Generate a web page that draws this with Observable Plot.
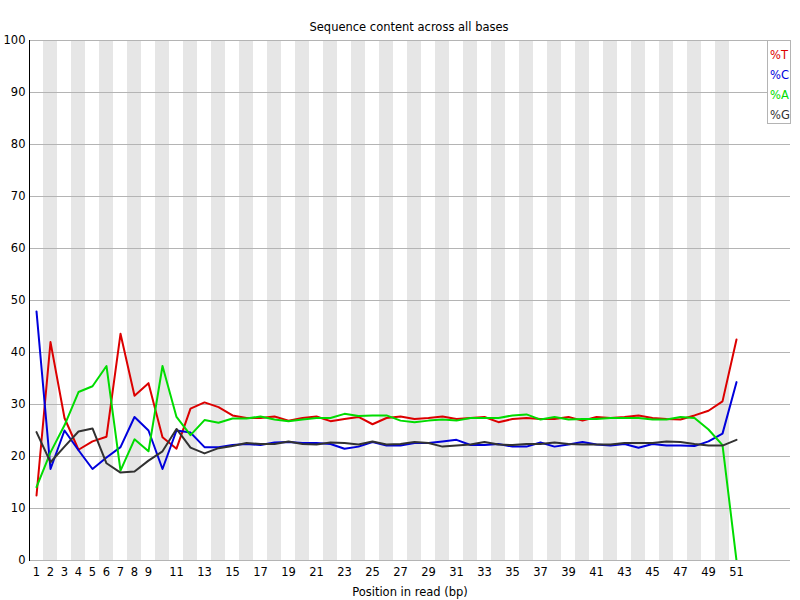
<!DOCTYPE html>
<html>
<head>
<meta charset="utf-8">
<script src="https://cdn.jsdelivr.net/npm/d3@7"></script>
<script src="https://cdn.jsdelivr.net/npm/@observablehq/plot@0.6"></script>
<style>
  body { margin: 0; background: white; }
  #wrap { position: relative; width: 800px; height: 600px; }
  #legend {
    position: absolute; left: 767px; top: 40px; width: 22px; height: 82px;
    background: white; border: 1px solid #b4b4b4;
    font-family: "DejaVu Sans", sans-serif; font-size: 11.5px;
  }
  #legend div { position: absolute; left: 2px; }
</style>
</head>
<body>
<div id="wrap"></div>
<script>
const positions = d3.range(1, 52);
const xTickLabels = [1,2,3,4,5,6,7,8,9,11,13,15,17,19,21,23,25,27,29,31,33,35,37,39,41,43,45,47,49,51];
const yTickLabels = [0,10,20,30,40,50,60,70,80,90,100];
const seriesNames = ["%T", "%C", "%A", "%G"];
const seriesColors = ["#dc0000", "#0000dc", "#00dc00", "#323232"];

const pctT = [12.5,42.0,27.4,21.3,22.9,23.8,43.6,31.7,34.1,23.7,
  21.5,29.2,30.4,29.5,27.9,27.4,27.4,27.7,26.9,27.4,
  27.7,26.8,27.2,27.6,26.2,27.4,27.7,27.2,27.4,27.7,
  27.2,27.4,27.6,26.6,27.2,27.4,27.2,27.2,27.6,26.9,
  27.6,27.4,27.6,27.9,27.4,27.2,27.1,27.9,28.8,30.6,42.5];
const pctC = [47.9,17.6,25.0,21.2,17.6,19.8,21.8,27.6,25.0,17.6,
  25.0,24.6,21.8,21.8,22.2,22.4,22.2,22.7,22.8,22.6,
  22.6,22.4,21.5,21.9,22.8,22.1,22.1,22.6,22.6,22.9,
  23.2,22.2,22.2,22.4,21.9,21.9,22.7,21.9,22.3,22.8,
  22.3,22.1,22.4,21.7,22.4,22.1,22.1,22.0,22.9,24.4,34.3];
const pctA = [14.1,20.8,26.0,32.4,33.5,37.4,17.3,23.3,21.0,37.4,
  27.6,24.1,27.0,26.5,27.3,27.3,27.7,27.1,26.8,27.1,
  27.4,27.4,28.2,27.8,27.9,27.9,26.9,26.6,26.9,27.1,
  26.9,27.4,27.4,27.4,27.9,28.1,27.1,27.6,27.1,27.2,
  27.2,27.4,27.4,27.4,27.1,27.1,27.6,27.4,25.2,22.2,0];
const pctG = [24.7,18.9,21.9,24.8,25.4,18.7,16.9,17.1,19.2,21.0,
  25.3,21.7,20.6,21.6,22.0,22.6,22.4,22.4,22.9,22.4,
  22.3,22.7,22.6,22.3,22.9,22.3,22.4,22.8,22.6,21.9,
  22.1,22.3,22.8,22.3,22.2,22.4,22.4,22.7,22.4,22.3,
  22.3,22.3,22.6,22.6,22.6,22.9,22.8,22.4,22.1,22.1,23.2];

const seriesValues = [pctT, pctC, pctA, pctG];
const rows = [];
seriesNames.forEach((name, i) => {
  positions.forEach((p, j) => rows.push({series: name, pos: p, value: seriesValues[i][j]}));
});
const stripes = positions.filter(p => p % 2 === 0);

const chart = Plot.plot({
  width: 800,
  height: 600,
  marginTop: 40,
  marginBottom: 40,
  marginLeft: 29,
  marginRight: 10,
  style: {fontFamily: "DejaVu Sans, sans-serif", fontSize: "11.5px", background: "white", color: "black"},
  x: {domain: [0.5, 54.857], axis: null},
  y: {domain: [0, 100], axis: null},
  color: {domain: seriesNames, range: seriesColors},
  marks: [
    Plot.rect(stripes, {x1: d => d - 0.5, x2: d => d + 0.5, y1: 0, y2: 100, fill: "#e6e6e6"}),
    Plot.gridY(yTickLabels, {stroke: "#b4b4b4", strokeOpacity: 1, strokeWidth: 1}),
    Plot.line(rows, {x: "pos", y: "value", z: "series", stroke: "series", strokeWidth: 2, clip: true}),
    Plot.frame({anchor: "left", stroke: "black", strokeWidth: 1}),
    Plot.axisY(yTickLabels, {tickSize: 0, tickPadding: 4, label: null, fill: "black"}),
    Plot.axisX(xTickLabels, {tickSize: 0, tickPadding: 7, label: null, fill: "black"}),
    Plot.text(["Sequence content across all bases"], {frameAnchor: "top", dx: -1, dy: -10, lineAnchor: "bottom", fill: "black"}),
    Plot.text(["Position in read (bp)"], {frameAnchor: "bottom", dy: 27, lineAnchor: "top", fill: "black"})
  ]
});
const wrap = document.getElementById("wrap");
wrap.appendChild(chart);

const legend = document.createElement("div");
legend.id = "legend";
seriesNames.forEach((name, i) => {
  const d = document.createElement("div");
  d.textContent = name;
  d.style.color = seriesColors[i];
  d.style.top = (7 + i * 20) + "px";
  legend.appendChild(d);
});
wrap.appendChild(legend);
</script>
</body>
</html>
